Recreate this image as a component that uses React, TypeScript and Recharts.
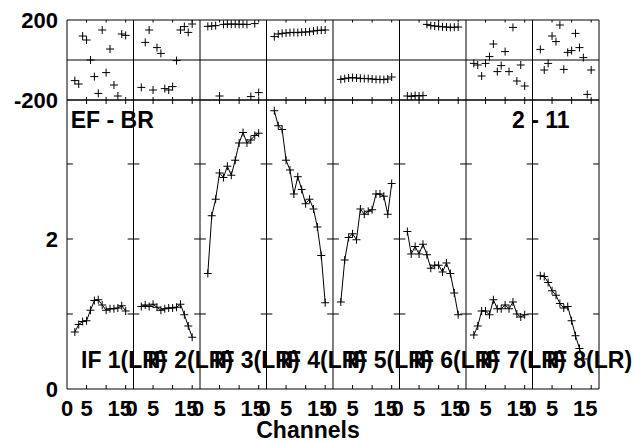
import React from 'react';
import { ComposedChart, Line, XAxis, YAxis, ReferenceLine } from 'recharts';

const FONT = '"Liberation Sans", Arial, Helvetica, sans-serif';

// ---------- data ----------
const channels = [2, 3, 4, 5, 6, 7, 8, 9, 10, 11, 12, 13, 14, 15];
const panelLabels = ['IF 1(LR)', 'IF 2(LR)', 'IF 3(LR)', 'IF 4(LR)', 'IF 5(LR)', 'IF 6(LR)', 'IF 7(LR)', 'IF 8(LR)'];
const baselineLabel = 'EF - BR';
const timeLabel = '2 - 11';
const xAxisTitle = 'Channels';

const xTickChannels = [0, 5, 15];
const xMarkChannels = [5, 10, 15];
const phaseTicks = [-200, 200];
const ampTicks = [0, 2];
const ampMarks = [1, 2, 3];

const phaseIF1 = [-103, -120, 120, 100, 0, -83, -167, 150, -63, 55, -125, -180, 130, 123];
const phaseIF2 = [-137, 88, 150, -150, 62, 33, -143, -150, -133, -3, 150, 167, 138, 180];
const phaseIF3 = [168, 170, 172, -180, 178, 180, 179, 180, 178, 179, 178, -183, 182, -163];
const phaseIF4 = [117, 130, 133, 135, 137, 138, 137, 139, 140, 141, 145, 148, 149, 150];
const phaseIF5 = [-97, -93, -90, -88, -90, -92, -93, -93, -95, -97, -97, -98, -95, -85];
const phaseIF6 = [-180, -182, -178, -180, -178, 178, 172, 170, 168, 166, 165, 163, 164, 165];
const phaseIF7 = [-17, -25, -80, -17, 17, 80, -58, -28, 42, -58, 163, -105, -25, -130];
const phaseIF8 = [53, -50, -17, 120, 92, 175, -47, 38, 47, 133, 62, 12, -172, -50];

const ampIF1 = [0.76, 0.86, 0.9, 0.91, 1.05, 1.18, 1.19, 1.12, 1.05, 1.07, 1.07, 1.08, 1.11, 1.04];
const ampIF2 = [1.1, 1.12, 1.1, 1.13, 1.09, 1.05, 1.07, 1.08, 1.08, 1.09, 1.13, 0.99, 0.84, 0.69];
const ampIF3 = [1.54, 2.31, 2.53, 2.88, 2.82, 2.97, 2.85, 3.05, 3.28, 3.42, 3.28, 3.32, 3.38, 3.41];
const ampIF4 = [3.71, 3.51, 3.46, 3.05, 2.92, 2.6, 2.83, 2.66, 2.47, 2.53, 2.4, 2.16, 1.78, 1.15];
const ampIF5 = [1.16, 1.72, 2.02, 2.07, 1.99, 2.4, 2.33, 2.37, 2.39, 2.6, 2.6, 2.57, 2.33, 2.74];
const ampIF6 = [2.1, 1.8, 1.9, 1.8, 1.93, 1.79, 1.61, 1.65, 1.65, 1.56, 1.68, 1.54, 1.28, 0.99];
const ampIF7 = [0.72, 0.84, 1.04, 1.04, 0.99, 1.19, 1.07, 1.07, 1.12, 1.07, 1.16, 1.0, 0.96, 0.99];
const ampIF8 = [1.51, 1.5, 1.42, 1.31, 1.25, 1.14, 1.08, 1.1, 0.91, 0.71, 0.54, 0.4];

const phases = [phaseIF1, phaseIF2, phaseIF3, phaseIF4, phaseIF5, phaseIF6, phaseIF7, phaseIF8];
const amps = [ampIF1, ampIF2, ampIF3, ampIF4, ampIF5, ampIF6, ampIF7, ampIF8];

// ---------- layout ----------
const SPAN = 17; // channel span of one panel
const NP = 8;
const X_MAX = SPAN * NP;
const AMP_MAX = 3.853;

const phaseData = phases.flatMap((arr, p) => arr.map((v, i) => ({ x: p * SPAN + channels[i], ph: v })));
const ampData = amps.flatMap((arr, p) => [
  ...arr.map((v, i) => ({ x: p * SPAN + channels[i], amp: v })),
  { x: p * SPAN + 16.5, amp: null as number | null },
]);

const panelEdges = Array.from({ length: NP + 1 }, (_, k) => k * SPAN);
const innerMarks = Array.from({ length: NP }, (_, p) => xMarkChannels.map((c) => p * SPAN + c)).flat();
const xTicks = Array.from({ length: NP }, (_, p) => xTickChannels.map((c) => p * SPAN + c)).flat();

const crossDot = (props: any) => {
  const { cx, cy, index } = props;
  if (cx == null || cy == null || Number.isNaN(cx) || Number.isNaN(cy)) return <g key={`n${index}`} />;
  return (
    <path
      key={`c${index}`}
      d={`M${cx - 4},${cy}H${cx + 4}M${cx},${cy - 4}V${cy + 4}`}
      stroke="#000"
      strokeWidth={1}
      fill="none"
    />
  );
};

const XTick = (props: any) => {
  const { x, y, payload } = props;
  const v = payload.value as number;
  const p = Math.floor(v / SPAN + 1e-6);
  const ch = Math.round(v - p * SPAN);
  const dx = ch === 15 ? -6 : ch === 0 && p > 0 ? -2 : 0;
  return (
    <text x={x + dx} y={y} dy="0.71em" textAnchor="middle" fill="#000" fontFamily={FONT} fontWeight={700} fontSize={22}>
      {ch}
    </text>
  );
};

const tickStyle = { fill: '#000', fontFamily: FONT, fontWeight: 700, fontSize: 22 };

export default function App() {
  return (
    <div style={{ position: 'fixed', left: 0, top: 0, width: 636, height: 442, background: '#fff' }}>
      <div style={{ position: 'absolute', left: 0, top: 0 }}>
        <ComposedChart width={636} height={130} data={phaseData} margin={{ top: 20, right: 37, left: 0, bottom: 30 }}>
          <XAxis dataKey="x" type="number" domain={[0, X_MAX]} hide allowDataOverflow />
          <YAxis
            type="number"
            domain={[-200, 200]}
            ticks={phaseTicks}
            width={67}
            tickSize={0}
            tickMargin={9}
            axisLine={false}
            tickLine={false}
            tick={tickStyle}
            allowDataOverflow
          />
          {panelEdges.map((x) => (
            <ReferenceLine key={`pv${x}`} x={x} stroke="#000" strokeWidth={1} />
          ))}
          {[200, 0, -200].map((y) => (
            <ReferenceLine key={`ph${y}`} y={y} stroke="#000" strokeWidth={1} />
          ))}
          {innerMarks.map((x) => (
            <ReferenceLine key={`pt${x}`} segment={[{ x, y: 200 }, { x, y: 187.5 }]} stroke="#000" strokeWidth={1} />
          ))}
          {innerMarks.map((x) => (
            <ReferenceLine key={`pb${x}`} segment={[{ x, y: -200 }, { x, y: -185 }]} stroke="#000" strokeWidth={1} />
          ))}
          <Line
            dataKey="ph"
            stroke="none"
            dot={crossDot}
            activeDot={false}
            isAnimationActive={false}
            connectNulls={false}
          />
        </ComposedChart>
      </div>
      <div style={{ position: 'absolute', left: 0, top: 90 }}>
        <ComposedChart width={636} height={352} data={ampData} margin={{ top: 10, right: 37, left: 0, bottom: 0 }}>
          <XAxis
            dataKey="x"
            type="number"
            domain={[0, X_MAX]}
            ticks={xTicks}
            interval={0}
            height={53}
            tickSize={0}
            tickMargin={11}
            axisLine={false}
            tickLine={false}
            tick={<XTick />}
            allowDataOverflow
          />
          <YAxis
            type="number"
            domain={[0, AMP_MAX]}
            ticks={ampTicks}
            width={67}
            tickSize={0}
            tickMargin={9}
            axisLine={false}
            tickLine={false}
            tick={tickStyle}
            allowDataOverflow
          />
          {panelEdges.map((x) => (
            <ReferenceLine key={`av${x}`} x={x} stroke="#000" strokeWidth={1} />
          ))}
          {[AMP_MAX, 0].map((y) => (
            <ReferenceLine key={`ah${y}`} y={y} stroke="#000" strokeWidth={1} />
          ))}
          {innerMarks.map((x) => (
            <ReferenceLine key={`at${x}`} segment={[{ x, y: AMP_MAX }, { x, y: AMP_MAX - 0.053 }]} stroke="#000" strokeWidth={1} />
          ))}
          {innerMarks.map((x) => (
            <ReferenceLine key={`ab${x}`} segment={[{ x, y: 0 }, { x, y: 0.053 }]} stroke="#000" strokeWidth={1} />
          ))}
          {ampMarks.flatMap((v) =>
            panelEdges.map((e) => (
              <ReferenceLine
                key={`ay${v}_${e}`}
                segment={[
                  { x: Math.max(0, e - 1.5), y: v },
                  { x: Math.min(X_MAX, e + 1.5), y: v },
                ]}
                stroke="#000"
                strokeWidth={1}
              />
            ))
          )}
          <Line
            dataKey="amp"
            stroke="#000"
            strokeWidth={1}
            dot={crossDot}
            activeDot={false}
            isAnimationActive={false}
            connectNulls={false}
          />
        </ComposedChart>
      </div>
      <svg
        width={636}
        height={442}
        style={{ position: 'absolute', left: 0, top: 0, pointerEvents: 'none' }}
        fontFamily={FONT}
        fontWeight={700}
        fontSize={23}
        fill="#000"
      >
        <text x={70.7} y={128.3}>{baselineLabel}</text>
        <text x={512} y={128.3}>{timeLabel}</text>
        {panelLabels.map((t, i) => (
          <text key={t} x={81 + 66.5 * i} y={368.3}>
            {t}
          </text>
        ))}
        <text x={308} y={438} textAnchor="middle">
          {xAxisTitle}
        </text>
      </svg>
    </div>
  );
}
